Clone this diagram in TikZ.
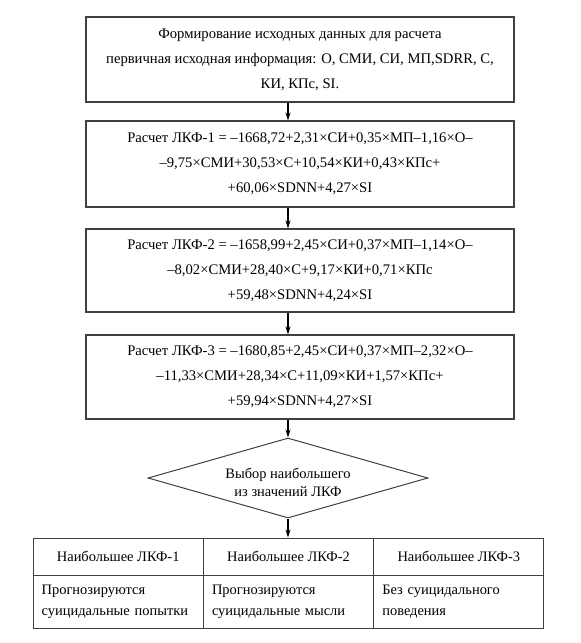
\documentclass[tikz,border=0pt]{standalone}
\usepackage{fontspec}
\setmainfont{Liberation Serif}
\usetikzlibrary{arrows.meta,shapes.geometric}
\tikzset{
  box/.style={draw=black!75, line width=1.1bp, minimum width=428bp, inner sep=0pt, align=center,
    font=\fontsize{14.7}{25}\selectfont},
  dia/.style={draw=black!75, line width=1bp, diamond, aspect=3.5, inner sep=0pt,
    minimum width=280bp, minimum height=80bp},
  diatext/.style={align=center, inner sep=0pt, font=\fontsize{14.5}{18}\selectfont},
  cellh/.style={draw=black!75, line width=1bp, minimum width=170.3bp, minimum height=37bp, inner sep=0pt,
    align=center, font=\fontsize{14.5}{18}\selectfont},
  cellb/.style={draw=black!75, line width=1bp, minimum width=170.3bp, minimum height=53bp, inner sep=0pt,
    text width=153bp, align=left, font=\fontsize{14.5}{21}\selectfont},
  arr/.style={-{Stealth[length=8bp,width=5bp]}, line width=1.2bp, black}
}
\begin{document}
\begin{tikzpicture}[x=1bp,y=-1bp]
\useasboundingbox (0,0) rectangle (581,643);
\node[box, minimum height=85bp] (b1) at (300,59.5)
 {Формирование исходных данных для расчета\\
  первичная исходная информация: О, СМИ, СИ, МП,SDRR, С,\\
  КИ, КПс, SI.};
\node[box, minimum height=86bp] (b2) at (300,164)
 {Расчет ЛКФ-1 = –1668,72+2,31×СИ+0,35×МП–1,16×О–\\
  –9,75×СМИ+30,53×С+10,54×КИ+0,43×КПс+\\
  +60,06×SDNN+4,27×SI};
\node[box, minimum height=83bp] (b3) at (300,270.5)
 {Расчет ЛКФ-2 = –1658,99+2,45×СИ+0,37×МП–1,14×О–\\
  –8,02×СМИ+28,40×С+9,17×КИ+0,71×КПс\\
  +59,48×SDNN+4,24×SI};
\node[box, minimum height=84bp] (b4) at (300,377)
 {Расчет ЛКФ-3 = –1680,85+2,45×СИ+0,37×МП–2,32×О–\\
  –11,33×СМИ+28,34×С+11,09×КИ+1,57×КПс+\\
  +59,94×SDNN+4,27×SI};
\node[dia] (d) at (288,478) {};
\node[diatext] (dt) at (288,482) {Выбор наибольшего\\из значений ЛКФ};
\node[cellh] (h1) at (118.2,556.5) {Наибольшее ЛКФ-1};
\node[cellh] (h2) at (288.5,556.5) {Наибольшее ЛКФ-2};
\node[cellh] (h3) at (458.8,556.5) {Наибольшее ЛКФ-3};
\node[cellb] (r1) at (118.2,601.5) {Прогнозируются\\суицидальные попытки};
\node[cellb] (r2) at (288.5,601.5) {Прогнозируются\\суицидальные мысли};
\node[cellb] (r3) at (458.8,601.5) {Без суицидального\\поведения};
\draw[arr] (b1.south -| d.north) -- (b2.north -| d.north);
\draw[arr] (b2.south -| d.north) -- (b3.north -| d.north);
\draw[arr] (b3.south -| d.north) -- (b4.north -| d.north);
\draw[arr] (b4.south -| d.north) -- (d.north);
\draw[arr] (d.south) -- (h2.north -| d.south);
\end{tikzpicture}
\end{document}
